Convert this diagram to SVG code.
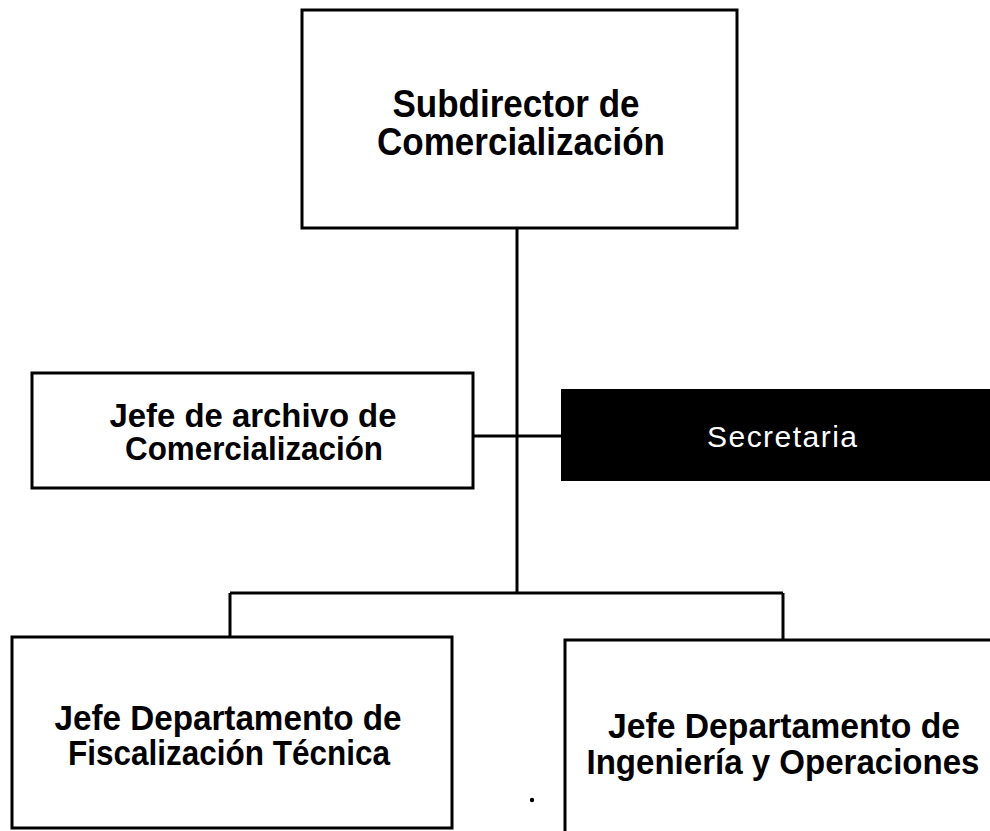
<svg xmlns="http://www.w3.org/2000/svg" width="990" height="831" viewBox="0 0 990 831">
<style>
.box{fill:#fff;stroke:#000;stroke-width:3}
.dark{fill:#000;stroke:#000;stroke-width:2}
.t{font-family:"Liberation Sans",Arial,sans-serif;font-weight:bold;fill:#000;text-anchor:middle}
.w{font-family:"Liberation Sans",Arial,sans-serif;fill:#fff;text-anchor:middle;font-size:30px}
.c{fill:none;stroke:#000;stroke-width:3}
</style>
<rect width="990" height="831" fill="#fff"/>
<g id="connectors">
<path class="c" d="M517 228 V593"/>
<path class="c" d="M230 593 H783"/>
<path class="c" d="M230 593 V637"/>
<path class="c" d="M783 593 V640"/>
<path class="c" d="M473 436 H562"/>
</g>
<g id="subdirector">
<rect class="box" x="302" y="10" width="435" height="218"/>
<text class="t" x="516" y="117" font-size="39" textLength="247" lengthAdjust="spacingAndGlyphs">Subdirector de</text>
<text class="t" x="521" y="155" font-size="39" textLength="288" lengthAdjust="spacingAndGlyphs">Comercialización</text>
</g>
<g id="archivo">
<rect class="box" x="32" y="373" width="441" height="115"/>
<text class="t" x="253" y="427" font-size="33" textLength="287" lengthAdjust="spacingAndGlyphs">Jefe de archivo de</text>
<text class="t" x="254" y="460" font-size="33" textLength="258" lengthAdjust="spacingAndGlyphs">Comercialización</text>
</g>
<g id="secretaria">
<rect class="dark" x="562" y="390" width="440" height="90"/>
<text class="w" x="782" y="447" textLength="150">Secretaria</text>
</g>
<g id="fiscalizacion">
<rect class="box" x="12" y="637" width="440" height="191"/>
<text class="t" x="228" y="730" font-size="35" textLength="347" lengthAdjust="spacingAndGlyphs">Jefe Departamento de</text>
<text class="t" x="229" y="765" font-size="35" textLength="322" lengthAdjust="spacingAndGlyphs">Fiscalización Técnica</text>
</g>
<g id="ingenieria">
<rect class="box" x="565" y="640" width="440" height="200"/>
<text class="t" x="784" y="738" font-size="35" textLength="352" lengthAdjust="spacingAndGlyphs">Jefe Departamento de</text>
<text class="t" x="783" y="774" font-size="35" textLength="393" lengthAdjust="spacingAndGlyphs">Ingeniería y Operaciones</text>
</g>
<circle cx="532" cy="800" r="2.2" fill="#000"/>
</svg>
